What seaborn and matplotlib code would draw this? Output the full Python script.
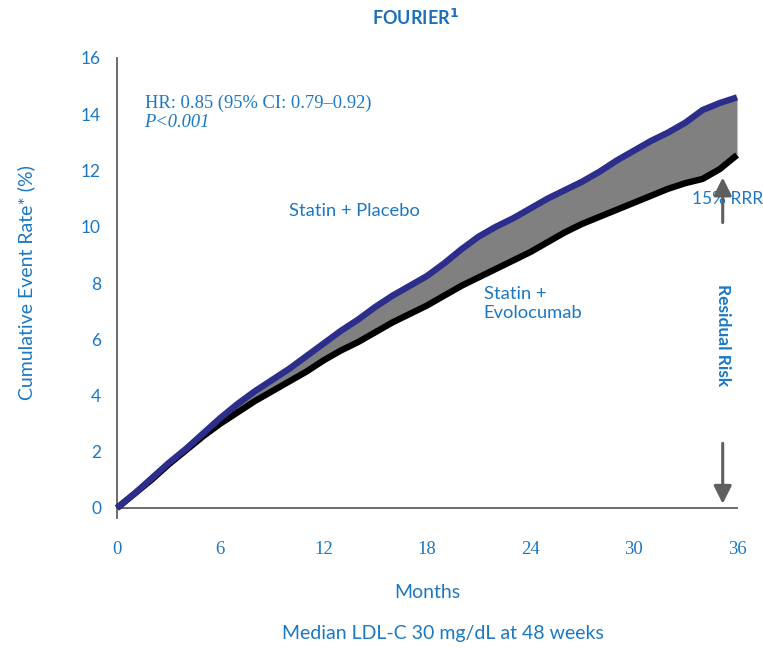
import matplotlib
matplotlib.use("Agg")
import matplotlib.pyplot as plt
import seaborn as sns
import pandas as pd

# Cumulative event rate (%) by month of follow-up
months = [0, 1, 2, 3, 4, 5, 6, 7, 8, 9, 10, 11, 12, 13, 14, 15, 16, 17, 18,
          19, 20, 21, 22, 23, 24, 25, 26, 27, 28, 29, 30, 31, 32, 33, 34, 35, 36]
placebo = [0, 0.5, 1.05, 1.6, 2.1, 2.65, 3.2, 3.7, 4.15, 4.55, 4.95, 5.4, 5.85,
           6.3, 6.7, 7.15, 7.55, 7.9, 8.25, 8.7, 9.2, 9.65, 10.0, 10.3, 10.65,
           11.0, 11.3, 11.6, 11.95, 12.35, 12.7, 13.05, 13.35, 13.7, 14.15, 14.4, 14.6]
evolocumab = [0, 0.5, 1.0, 1.55, 2.05, 2.55, 3.0, 3.4, 3.8, 4.15, 4.5, 4.85, 5.25,
              5.6, 5.9, 6.25, 6.6, 6.9, 7.2, 7.55, 7.9, 8.2, 8.5, 8.8, 9.1,
              9.45, 9.8, 10.1, 10.35, 10.6, 10.85, 11.1, 11.35, 11.55, 11.7, 12.05, 12.55]

x_ticks = [0, 6, 12, 18, 24, 30, 36]
y_ticks = [0, 2, 4, 6, 8, 10, 12, 14, 16]
series_names = ["Statin + Placebo", "Statin + Evolocumab"]

BLUE = "#1b78c3"
NAVY = "#2d2d8c"
AXIS = "#5f5f5f"

sns.set_theme(style="white")
plt.rcParams["font.family"] = ["Lato", "DejaVu Sans"]

df = pd.DataFrame({
    "month": months * 2,
    "rate": placebo + evolocumab,
    "arm": [series_names[0]] * len(months) + [series_names[1]] * len(months),
})

fig = plt.figure(figsize=(7.63, 6.48), dpi=100)
ax = fig.add_axes([117 / 763, 1 - 508 / 648, 620 / 763, 450 / 648])

# shaded gap between the two arms
ax.fill_between(months, evolocumab, placebo, color="#808080", lw=0, zorder=1)

sns.lineplot(data=df, x="month", y="rate", hue="arm", estimator=None,
             palette={series_names[0]: NAVY, series_names[1]: "black"},
             linewidth=4.6, legend=False, ax=ax, zorder=3)
for ln in ax.get_lines():
    ln.set_clip_on(False)
    ln.set_solid_capstyle("butt")
# placebo drawn on top of evolocumab
ax.get_lines()[0].set_zorder(4)

ax.set_xlim(0, 36)
ax.set_ylim(0, 16)
ax.set_xticks(x_ticks)
ax.set_yticks(y_ticks)
ax.set_xticklabels([str(t) for t in x_ticks], family="Liberation Serif",
                   fontsize=13.5, color=BLUE)
ax.set_yticklabels([str(t) for t in y_ticks], fontsize=12.5, color=BLUE)
ax.tick_params(axis="x", direction="out", length=9.5, width=1.2, color=AXIS, pad=14)
ax.tick_params(axis="y", direction="out", length=7.5, width=1.2, color=AXIS, pad=4)
for side in ["top", "right"]:
    ax.spines[side].set_visible(False)
for side in ["left", "bottom"]:
    ax.spines[side].set_color(AXIS)
    ax.spines[side].set_linewidth(1.3)
ax.spines["left"].set_bounds(-0.36, 16)

ax.set_xlabel("Months", fontsize=14, color=BLUE, labelpad=19)
ax.set_ylabel("Cumulative Event Rate* (%)", fontsize=14, color=BLUE, labelpad=33)

fig.text(415 / 763, 1 - 18 / 648, "FOURIER$^{\\mathbf{1}}$", ha="center", va="center",
         fontsize=13, fontweight="bold", color="#1a6fbd")
fig.text(443 / 763, 1 - 634 / 648, "Median LDL-C 30 mg/dL at 48 weeks",
         ha="center", va="center", fontsize=14, color=BLUE)

ax.text(1.6, 14.4, "HR: 0.85 (95% CI: 0.79\u20130.92)", family="Liberation Serif",
        fontsize=13.3, color=BLUE, va="center")
ax.text(1.6, 13.72, "P<0.001", family="Liberation Serif", style="italic",
        fontsize=13.3, color=BLUE, va="center")

ax.text(10.0, 10.55, "Statin + Placebo", fontsize=13.2, color=BLUE, va="center")
ax.text(21.3, 7.27, "Statin +\nEvolocumab", fontsize=13.2, color=BLUE, va="center",
        linespacing=1.2)

# residual-risk arrows at the end of follow-up
ax.annotate("", xy=(35.17, 11.75), xytext=(35.17, 10.15),
            arrowprops=dict(arrowstyle="-|>,head_length=0.9,head_width=0.45",
                            color=AXIS, lw=2.2, shrinkA=0, shrinkB=0),
            annotation_clip=False, zorder=5)
ax.text(35.45, 11.0, "15% RRR", fontsize=12.5, color=BLUE, ha="center", va="center",
        zorder=4)
ax.text(35.17, 6.15, "Residual Risk", fontsize=12.5, color=BLUE, fontweight="bold",
        rotation=-90, ha="center", va="center")
ax.annotate("", xy=(35.17, 0.15), xytext=(35.17, 2.3),
            arrowprops=dict(arrowstyle="-|>,head_length=0.9,head_width=0.45",
                            color=AXIS, lw=2.2, shrinkA=0, shrinkB=0),
            annotation_clip=False, zorder=5)

fig.savefig("out.png", dpi=100)
